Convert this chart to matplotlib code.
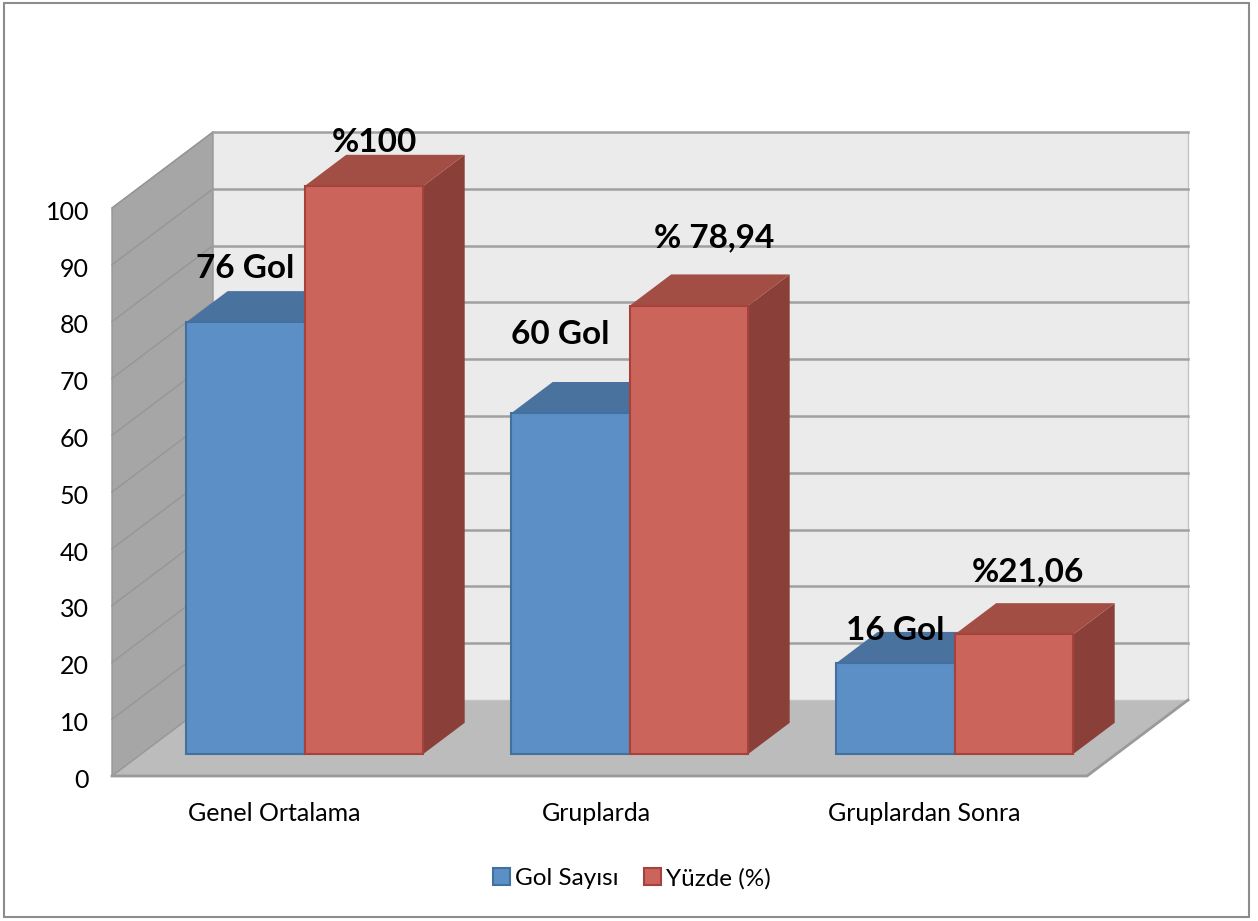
import matplotlib
matplotlib.use('Agg')
import matplotlib.pyplot as plt
from matplotlib.patches import Polygon, Rectangle
from matplotlib.transforms import ScaledTranslation

categories = ['Genel Ortalama', 'Gruplarda', 'Gruplardan Sonra']
gol_sayisi = [76, 60, 16]
yuzde = [100, 78.94, 21.06]
gol_labels = ['76 Gol', '60 Gol', '16 Gol']
yuzde_labels = ['%100', '% 78,94', '%21,06']
yticks = list(range(0, 101, 10))

W, H = 1258, 921
plt.rcParams['font.family'] = ['Lato', 'DejaVu Sans']

fig = plt.figure(figsize=(W / 100, H / 100), dpi=100)
ax = fig.add_axes([112 / W, 1 - 776 / H, 975 / W, 568 / H])
ax.set_xlim(0, 3)
ax.set_ylim(0, 100)
ax.patch.set_alpha(0)

# depth of the whole box, in data units
DX = 101 / 325
DY = 76 / 5.68
BAR_W = 118.5 / 325
GAP = (1 - 2 * BAR_W) / 2 + 1 / 325
BAR_DEPTH = 0.29  # start of bars inside the box
BAR_LEN = 0.41    # how far the bars run back


def pt(x, y, d):
    return (x + d * DX, y + d * DY)


def poly(pts, color, edge=None, lw=0, z=1):
    ax.add_patch(Polygon(pts, closed=True, facecolor=color, edgecolor=edge or color,
                         linewidth=lw, zorder=z, clip_on=False, joinstyle='miter'))


def bar3d(x, val, front, top, side, edge, z):
    d0, d1 = BAR_DEPTH, BAR_DEPTH + BAR_LEN
    x1 = x + BAR_W
    poly([pt(x1, 0, d0), pt(x1, 0, d1), pt(x1, val, d1), pt(x1, val, d0)], side, z=z)
    poly([pt(x, val, d0), pt(x, val, d1), pt(x1, val, d1), pt(x1, val, d0)], top, z=z)
    poly([pt(x, 0, d0), pt(x1, 0, d0), pt(x1, val, d0), pt(x, val, d0)], front, edge, 1.5, z=z + 0.1)


# walls and floor
poly([pt(0, 0, 0), pt(0, 0, 1), pt(0, 100, 1), pt(0, 100, 0)], '#a6a6a6')
poly([pt(0, 0, 1), pt(3, 0, 1), pt(3, 100, 1), pt(0, 100, 1)], '#ebebeb')
poly([pt(0, 0, 0), pt(3, 0, 0), pt(3, 0, 1), pt(0, 0, 1)], '#bcbcbc')

grid_color = '#a0a0a0'
grid_side = '#969696'
for t in yticks:
    if t == 0:
        continue
    ax.plot(*zip(pt(0, t, 0), pt(0, t, 1)), color=grid_side, lw=1, zorder=1.5, clip_on=False)
    ax.plot(*zip(pt(0, t, 1), pt(3, t, 1)), color=grid_color, lw=1.8, zorder=1.5, clip_on=False)
ax.plot(*zip(pt(0, 0, 1), pt(3, 0, 1), pt(3, 100, 1)), color='#c4c4c4', lw=1, zorder=1.4, clip_on=False)
ax.plot(*zip(pt(0, 0, 0), pt(0, 0, 1), pt(0, 100, 1), pt(0, 100, 0), pt(0, 0, 0)), color=grid_side, lw=1, zorder=1.4, clip_on=False)
ax.plot(*zip(pt(0, 0, 0), pt(3, 0, 0), pt(3, 0, 1)), color='#9a9a9a', lw=2, zorder=1.6, clip_on=False)

for i in range(3):
    xb = i + GAP
    bar3d(xb, gol_sayisi[i], '#5b8fc5', '#4a729f', '#3f6490', '#41719f', 2 + i)
    bar3d(xb + BAR_W, yuzde[i], '#cb655b', '#a34e45', '#8a4039', '#a5423c', 2.5 + i)

label_pos_gol = [(245, 269), (560, 335), (895, 631)]
label_pos_pct = [(374, 142), (714, 238), (1028, 572)]
for s, (px, py) in zip(gol_labels + yuzde_labels, label_pos_gol + label_pos_pct):
    fig.text(px / W, 1 - py / H, s, fontsize=24, fontweight='bold', color='black',
             ha='center', va='center', zorder=20)

for sp in ax.spines.values():
    sp.set_visible(False)
ax.set_yticks(yticks)
ax.set_xticks([0.5, 1.491, 2.5])
ax.set_xticklabels(categories)
ax.tick_params(axis='both', length=0, labelsize=18, labelcolor='black')
ax.tick_params(axis='y', pad=16.5)
ax.tick_params(axis='x', pad=19)
shift = ScaledTranslation(0, -1.6 / 72, fig.dpi_scale_trans)
for lab in ax.get_yticklabels():
    lab.set_transform(lab.get_transform() + shift)

# legend and outer frame
legend_handles = [Rectangle((0, 0), 1, 1, facecolor='#5b8fc5', edgecolor='#41719f', lw=1.5),
                  Rectangle((0, 0), 1, 1, facecolor='#cb655b', edgecolor='#a5423c', lw=1.5)]
fig.legend(legend_handles, ['Gol Sayısı', 'Yüzde (%)'], loc='center', ncol=2,
           bbox_to_anchor=(632 / W, 1 - 878.5 / H), frameon=False, fontsize=17.5,
           handlelength=0.7, handleheight=0.7, handletextpad=0.2, columnspacing=1.07)
fig.add_artist(Rectangle((4 / W, 1 - 917 / H), 1245 / W, 914 / H, transform=fig.transFigure,
                         facecolor='none', edgecolor='#8c8c8c', lw=1.5))

fig.savefig('out.png', dpi=100)
